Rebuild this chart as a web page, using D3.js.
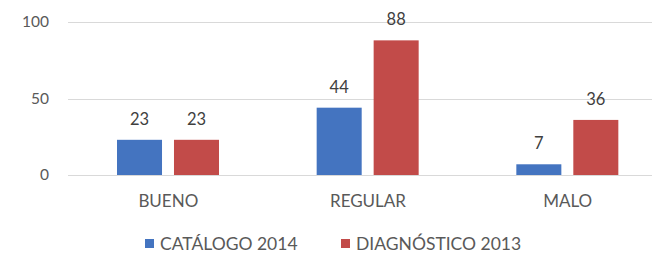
<!DOCTYPE html>
<html><head><meta charset="utf-8">
<script src="https://cdn.jsdelivr.net/npm/d3@7"></script>
<style>body{margin:0;background:#fff}svg{display:block}</style>
</head><body>
<svg id="c" width="652" height="253"></svg>
<script>
const categories = ["BUENO", "REGULAR", "MALO"];
const seriesNames = ["CATÁLOGO 2014", "DIAGNÓSTICO 2013"];
const catalogo2014 = [23, 44, 7];
const diagnostico2013 = [23, 88, 36];
const yTicks = [0, 50, 100];
const colors = ["#4474c0", "#c24b49"];

const svg = d3.select("#c");
const font = "Lato, 'Open Sans', sans-serif";
const y = d3.scaleLinear().domain([0, 100]).range([175, 22]);
const x0 = d3.scaleBand().domain(categories).range([68.5, 667.5]).padding(0);
const x1 = d3.scaleBand().domain(seriesNames).range([48.5, 150.5]).paddingInner(0.21);
const series = [catalogo2014, diagnostico2013];

// gridlines
svg.append("g").selectAll("line").data(yTicks).join("line")
  .attr("x1", 68).attr("x2", 652)
  .attr("y1", d => Math.round(y(d)) + 0.5).attr("y2", d => Math.round(y(d)) + 0.5)
  .attr("stroke", "#d9d9d9").attr("stroke-width", 1);

// y axis labels
const yAxis = d3.axisLeft(y).tickValues(yTicks).tickSize(0).tickPadding(0);
const ga = svg.append("g").attr("transform", "translate(49,0)").call(yAxis);
ga.select(".domain").remove();
ga.selectAll("text").attr("font-family", font).attr("font-size", 15.5).attr("fill", "#595959");

// bars
const groups = svg.append("g").selectAll("g").data(categories).join("g")
  .attr("transform", d => `translate(${x0(d)},0)`);
groups.each(function(cat, ci) {
  const g = d3.select(this);
  seriesNames.forEach((s, si) => {
    const v = series[si][ci];
    g.append("rect").attr("x", x1(s)).attr("width", x1.bandwidth())
      .attr("y", y(v)).attr("height", y(0) - y(v)).attr("fill", colors[si]);
    g.append("text").attr("x", x1(s) + x1.bandwidth() / 2).attr("y", y(v) - 15)
      .attr("text-anchor", "middle").attr("font-family", font).attr("font-size", 16.5)
      .attr("fill", "#404040").text(v);
  });
});

// category labels
svg.append("g").selectAll("text").data(categories).join("text")
  .attr("x", d => x0(d) + x0.bandwidth() / 2).attr("y", 207)
  .attr("text-anchor", "middle").attr("font-family", font).attr("font-size", 17)
  .attr("fill", "#595959").text(d => d);

// legend
const legX = [145, 341];
const leg = svg.append("g").selectAll("g").data(seriesNames).join("g")
  .attr("transform", (d, i) => `translate(${legX[i]},0)`);
leg.append("rect").attr("x", 0).attr("y", 239).attr("width", 9).attr("height", 9)
  .attr("fill", (d, i) => colors[i]);
leg.append("text").attr("x", 15).attr("y", 250).attr("font-family", font).attr("font-size", 17.5)
  .attr("fill", "#595959").text(d => d);
</script>
</body></html>
